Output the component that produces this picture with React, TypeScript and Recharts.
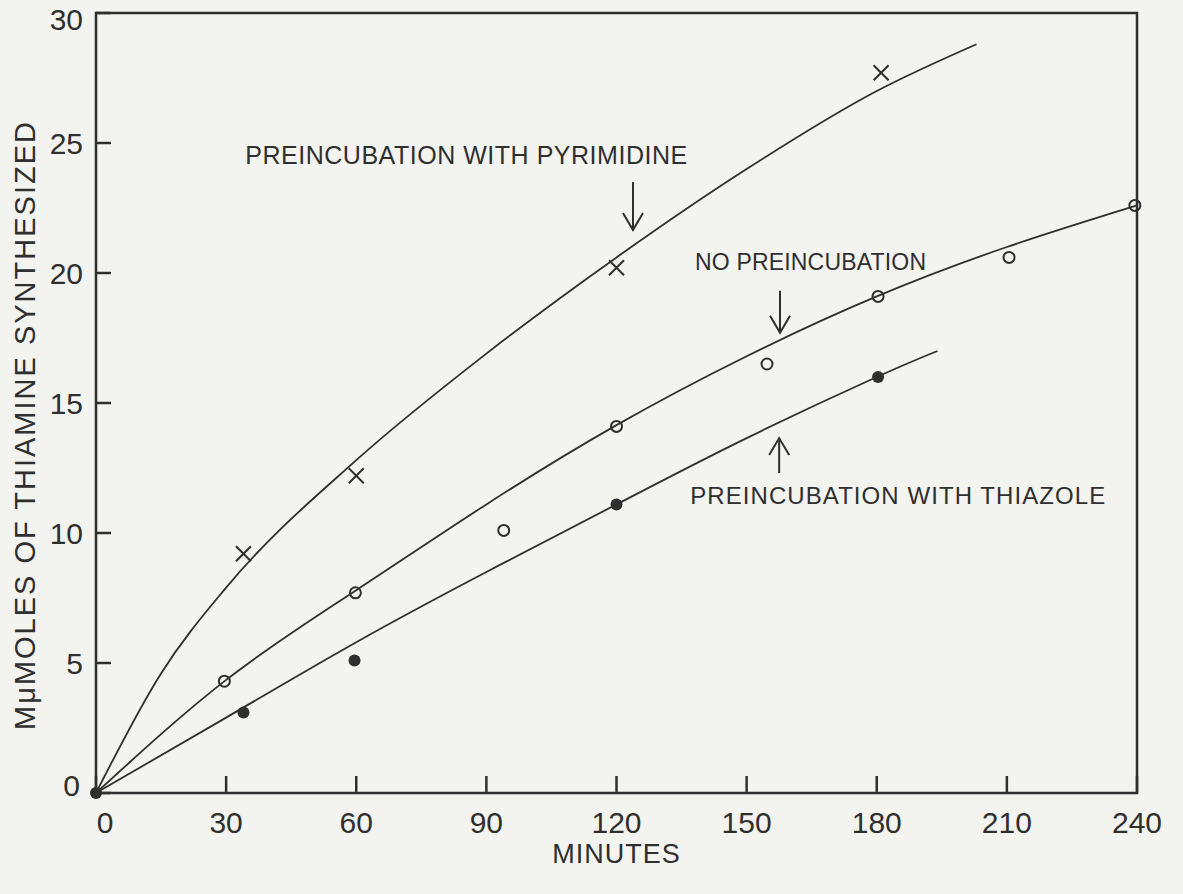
import { ComposedChart, Line, Scatter, XAxis, YAxis, ReferenceArea, ReferenceDot } from 'recharts';

const FONT = '"Liberation Sans", Arial, sans-serif';
const INK = '#2f2f2f';
const PAPER = '#f3f3ef';

// axis ticks
const xTicks = [0, 30, 60, 90, 120, 150, 180, 210, 240];
const yTicks = [0, 5, 10, 15, 20, 25, 30];

// measured points (minutes, mμmoles)
const pyrimidineMinutes = [34, 60, 120, 181];
const pyrimidineValues = [9.2, 12.2, 20.2, 27.7];

const noPreMinutes = [29.6, 59.8, 94, 120, 154.7, 180.3, 210.5, 239.5];
const noPreValues = [4.3, 7.7, 10.1, 14.1, 16.5, 19.1, 20.6, 22.6];

const thiazoleMinutes = [0, 34, 59.6, 120, 180.3];
const thiazoleValues = [0, 3.1, 5.1, 11.1, 16.0];

// fitted curves
const pyrimidineCurveMinutes = [0, 15, 30, 60, 90, 120, 150, 180, 203];
const pyrimidineCurveValues = [0, 4.6, 7.9, 12.8, 16.9, 20.6, 24.0, 27.0, 28.8];

const noPreCurveMinutes = [0, 30, 60, 90, 120, 150, 180, 210, 240];
const noPreCurveValues = [0, 4.35, 7.8, 11.1, 14.15, 16.8, 19.1, 21.0, 22.6];

const thiazoleCurveMinutes = [0, 30, 60, 90, 120, 150, 180, 194];
const thiazoleCurveValues = [0, 2.9, 5.8, 8.5, 11.1, 13.65, 16.0, 17.0];

const zip = (xs: number[], ys: number[]) => xs.map((x, i) => ({ x, y: ys[i] }));

const pyrimidinePts = zip(pyrimidineMinutes, pyrimidineValues);
const noPrePts = zip(noPreMinutes, noPreValues);
const thiazolePts = zip(thiazoleMinutes, thiazoleValues);
const pyrimidineCurve = zip(pyrimidineCurveMinutes, pyrimidineCurveValues);
const noPreCurve = zip(noPreCurveMinutes, noPreCurveValues);
const thiazoleCurve = zip(thiazoleCurveMinutes, thiazoleCurveValues);

const XTick = (props: any) => {
  const { x, y, payload } = props;
  return (
    <g>
      <line x1={x} y1={y} x2={x} y2={y - 17} stroke={INK} strokeWidth={2.5} />
      <text x={x + (payload.value === 0 ? 9 : 0)} y={y + 40} textAnchor="middle"
        fontFamily={FONT} fontSize={30} fill={INK}>{payload.value}</text>
    </g>
  );
};

const YTick = (props: any) => {
  const { x, y, payload } = props;
  const v = payload.value;
  const dy = v === 0 ? 3 : v === 30 ? 17 : 11;
  return (
    <g>
      <line x1={x} y1={y} x2={x + 15} y2={y} stroke={INK} strokeWidth={2.5} />
      <text x={x - (v === 0 ? 16 : 13)} y={y + dy} textAnchor="end"
        fontFamily={FONT} fontSize={30} fill={INK}>{v}</text>
    </g>
  );
};

const XMark = (props: any) => {
  const { cx, cy } = props;
  return (
    <g stroke={INK} strokeWidth={2}>
      <line x1={cx - 7.5} y1={cy - 7.5} x2={cx + 7.5} y2={cy + 7.5} />
      <line x1={cx - 7.5} y1={cy + 7.5} x2={cx + 7.5} y2={cy - 7.5} />
    </g>
  );
};

const OpenDot = (props: any) => (
  <circle cx={props.cx} cy={props.cy} r={5.5} fill="none" stroke={INK} strokeWidth={2} />
);

const FilledDot = (props: any) => (
  <circle cx={props.cx} cy={props.cy} r={6} fill={INK} />
);

const note = (text: string, size: number, len: number) => (p: any) => (
  <text x={p.cx} y={p.cy} fontFamily={FONT} fontSize={size} fill={INK}
    textLength={len} lengthAdjust="spacing">{text}</text>
);

const arrow = (len: number, up: boolean) => (p: any) => {
  const s = up ? 1 : -1;
  const { cx, cy } = p;
  return (
    <g stroke={INK} strokeWidth={2} fill="none">
      <line x1={cx} y1={cy} x2={cx} y2={cy + s * len} />
      <polyline points={`${cx - 10},${cy + s * 17} ${cx},${cy} ${cx + 10},${cy + s * 17}`} />
    </g>
  );
};

const XTitle = (props: any) => {
  const vb = props.viewBox;
  return (
    <text x={vb.x + vb.width / 2} y={vb.y + 70} textAnchor="middle"
      fontFamily={FONT} fontSize={27} fill={INK} letterSpacing={1}>MINUTES</text>
  );
};

const YTitle = () => (
  <text x={35} y={426} transform="rotate(-90, 35, 426)" textAnchor="middle"
    fontFamily={FONT} fontSize={29} fill={INK} textLength={608} lengthAdjust="spacing">
    MμMOLES OF THIAMINE SYNTHESIZED
  </text>
);

export default function App() {
  return (
    <div style={{ position: 'absolute', left: 0, top: 0, width: 1183, height: 894, background: PAPER }}>
      <ComposedChart width={1183} height={894} margin={{ top: 13, right: 46, left: 0, bottom: 0 }}>
        <XAxis type="number" dataKey="x" domain={[0, 240]} ticks={xTicks} height={101}
          axisLine={false} tickLine={false} tickSize={0} tickMargin={0} tick={<XTick />}
          interval={0} label={<XTitle />} />
        <YAxis type="number" dataKey="y" domain={[0, 30]} ticks={yTicks} width={96}
          axisLine={false} tickLine={false} tickSize={0} tickMargin={0} tick={<YTick />}
          interval={0} label={<YTitle />} />
        <ReferenceArea x1={0} x2={240} y1={0} y2={30} fill="none" stroke={INK} strokeWidth={2.5} />

        <Line data={pyrimidineCurve} dataKey="y" type="monotone" stroke={INK} strokeWidth={1.8}
          dot={false} activeDot={false} isAnimationActive={false} />
        <Line data={noPreCurve} dataKey="y" type="natural" stroke={INK} strokeWidth={1.8}
          dot={false} activeDot={false} isAnimationActive={false} />
        <Line data={thiazoleCurve} dataKey="y" type="natural" stroke={INK} strokeWidth={1.8}
          dot={false} activeDot={false} isAnimationActive={false} />

        <Scatter data={pyrimidinePts} dataKey="y" shape={<XMark />} isAnimationActive={false} />
        <Scatter data={noPrePts} dataKey="y" shape={<OpenDot />} isAnimationActive={false} />
        <Scatter data={thiazolePts} dataKey="y" shape={<FilledDot />} isAnimationActive={false} />

        <ReferenceDot x={34.4} y={24.2} r={0} ifOverflow="visible"
          shape={note('PREINCUBATION WITH PYRIMIDINE', 25, 442)} />
        <ReferenceDot x={123.8} y={21.65} r={0} ifOverflow="visible" shape={arrow(48, false)} />
        <ReferenceDot x={138.1} y={20.1} r={0} ifOverflow="visible"
          shape={note('NO PREINCUBATION', 23, 231)} />
        <ReferenceDot x={157.7} y={17.7} r={0} ifOverflow="visible" shape={arrow(42, false)} />
        <ReferenceDot x={137} y={11.1} r={0} ifOverflow="visible"
          shape={note('PREINCUBATION WITH THIAZOLE', 24, 415)} />
        <ReferenceDot x={157.5} y={13.65} r={0} ifOverflow="visible" shape={arrow(35, true)} />
      </ComposedChart>
    </div>
  );
}
